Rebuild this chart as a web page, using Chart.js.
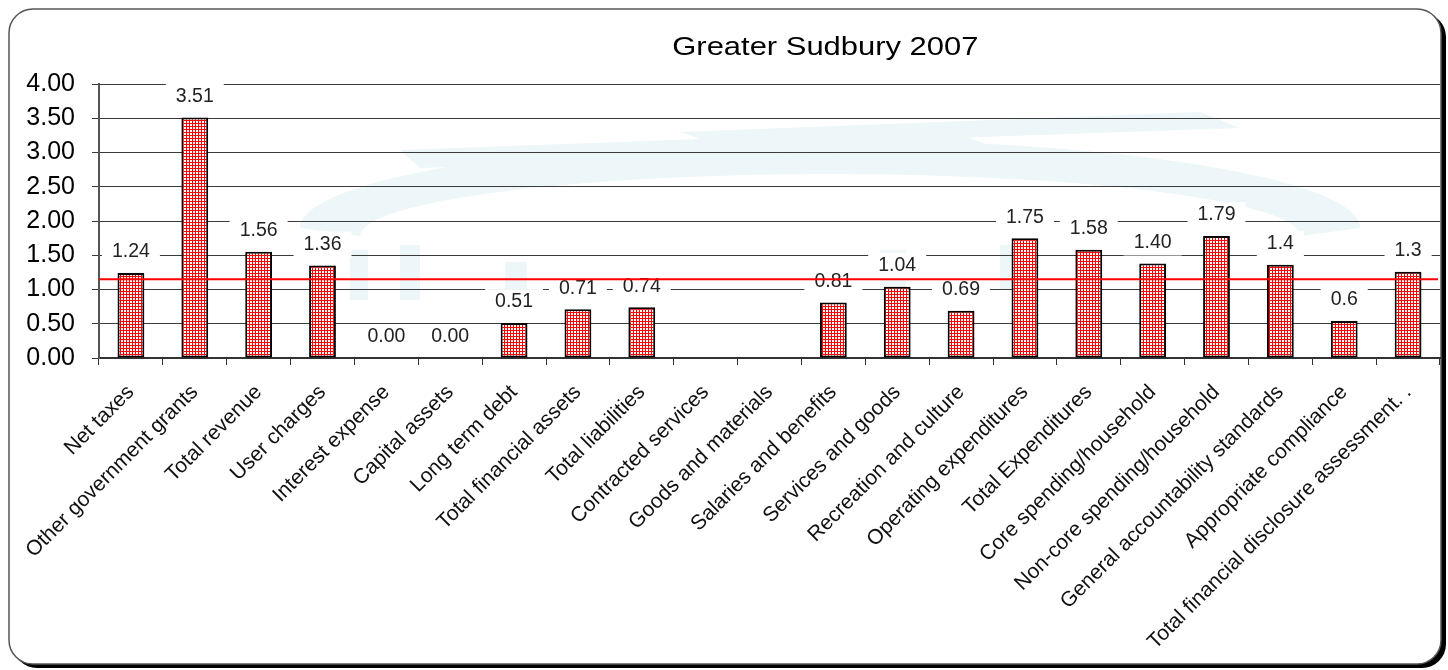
<!DOCTYPE html>
<html>
<head>
<meta charset="utf-8">
<script src="https://cdn.jsdelivr.net/npm/chart.js@4.4.1/dist/chart.umd.min.js"></script>
<style>
html,body{margin:0;padding:0;background:#fff;}
#wrap{width:1448px;height:670px;position:relative;}
canvas{display:block;}
</style>
</head>
<body>
<div id="wrap"><canvas id="c" width="1448" height="670"></canvas></div>
<script>
// ---- data ----
const chartTitle = 'Greater Sudbury 2007';
const categories = [
  'Net taxes', 'Other government grants', 'Total revenue', 'User charges',
  'Interest expense', 'Capital assets', 'Long term debt', 'Total financial assets',
  'Total liabilities', 'Contracted services', 'Goods and materials',
  'Salaries and benefits', 'Services and goods', 'Recreation and culture',
  'Operating expenditures', 'Total Expenditures', 'Core spending/household',
  'Non-core spending/household', 'General accountability standards',
  'Appropriate compliance', 'Total financial disclosure assessment. .'
];
const values = [1.24, 3.51, 1.55, 1.35, 0, 0, 0.51, 0.71, 0.74, null, null,
  0.81, 1.04, 0.69, 1.75, 1.58, 1.38, 1.78, 1.36, 0.54, 1.26];
const valueLabels = ['1.24', '3.51', '1.56', '1.36', '0.00', '0.00', '0.51', '0.71',
  '0.74', '', '', '0.81', '1.04', '0.69', '1.75', '1.58', '1.40', '1.79', '1.4', '0.6', '1.3'];
const averageValue = 1.15;
const yTicks = [0, 0.5, 1, 1.5, 2, 2.5, 3, 3.5, 4];

const FONT = '"Liberation Sans", Arial, sans-serif';

const canvas = document.getElementById('c');
const ctx = canvas.getContext('2d');

function makePattern() {
  const p = document.createElement('canvas');
  p.width = 3; p.height = 3;
  const g = p.getContext('2d');
  g.fillStyle = '#ff0000';
  g.fillRect(0, 0, 3, 3);
  g.fillStyle = '#ffffff';
  g.fillRect(1, 1, 2, 2);
  return ctx.createPattern(p, 'repeat');
}
const barPattern = makePattern();

function roundRect(c, x, y, w, h, r) {
  c.beginPath();
  c.moveTo(x + r, y);
  c.lineTo(x + w - r, y);
  c.arcTo(x + w, y, x + w, y + r, r);
  c.lineTo(x + w, y + h - r);
  c.arcTo(x + w, y + h, x + w - r, y + h, r);
  c.lineTo(x + r, y + h);
  c.arcTo(x, y + h, x, y + h - r, r);
  c.lineTo(x, y + r);
  c.arcTo(x, y, x + r, y, r);
  c.closePath();
}

const framePlugin = {
  id: 'frame',
  beforeDraw(chart) {
    const c = chart.ctx;
    c.save();
    c.fillStyle = '#ffffff';
    c.fillRect(0, 0, chart.width, chart.height);
    // shadow
    c.fillStyle = '#000000';
    roundRect(c, 13, 13, 1433, 655, 24);
    c.fill();
    // panel
    c.fillStyle = '#ffffff';
    roundRect(c, 9, 9, 1432, 655, 24);
    c.fill();
    c.lineWidth = 1.5;
    c.strokeStyle = '#555555';
    c.stroke();
    // faint background watermark
    c.save();
    c.fillStyle = '#edf6f8';
    c.beginPath();
    c.ellipse(830, 228, 530, 88, 0, Math.PI, 2 * Math.PI);
    c.ellipse(830, 236, 470, 62, 0, 2 * Math.PI, Math.PI, true);
    c.closePath();
    c.fill();
    c.beginPath();
    c.moveTo(400, 150); c.lineTo(950, 130); c.lineTo(1000, 150); c.lineTo(420, 168); c.closePath();
    c.fill();
    c.beginPath();
    c.moveTo(680, 132); c.lineTo(1200, 112); c.lineTo(1240, 128); c.lineTo(720, 146); c.closePath();
    c.fill();
    [[350, 250, 18, 50], [400, 245, 20, 55], [505, 262, 22, 38], [880, 250, 26, 50], [1000, 245, 24, 45]].forEach(r => c.fillRect(r[0], r[1], r[2], r[3]));
    c.restore();
    // title
    c.fillStyle = '#000000';
    c.font = '26px ' + FONT;
    c.textAlign = 'center';
    c.textBaseline = 'middle';
    c.translate(chart.width * 0.57, 48);
    c.scale(1.19, 1);
    c.fillText(chartTitle, 0, 0);
    c.restore();
  }
};

const labelsPlugin = {
  id: 'valueLabels',
  afterDatasetsDraw(chart) {
    const c = chart.ctx;
    const meta = chart.getDatasetMeta(0);
    c.save();
    c.font = '19.5px ' + FONT;
    c.textAlign = 'center';
    c.textBaseline = 'middle';
    meta.data.forEach((bar, i) => {
      const txt = valueLabels[i];
      if (!txt || values[i] === null) return;
      const x = bar.x;
      const y = bar.y - 21;
      const w = c.measureText(txt).width + 20;
      const h = 26;
      c.fillStyle = '#ffffff';
      c.fillRect(x - w / 2, y - h / 2, w, h);
      c.fillStyle = '#222222';
      c.fillText(txt, x, y);
    });
    // average line
    const ys = chart.scales.y;
    const yy = ys.getPixelForValue(averageValue);
    c.strokeStyle = '#ff0000';
    c.lineWidth = 2;
    c.beginPath();
    c.moveTo(chart.chartArea.left, yy);
    c.lineTo(chart.chartArea.right - 2, yy);
    c.stroke();
    c.restore();
  }
};

new Chart(canvas, {
  type: 'bar',
  data: {
    labels: categories,
    datasets: [{
      data: values,
      backgroundColor: barPattern,
      borderColor: '#000000',
      borderWidth: 2,
      borderSkipped: false,
      barPercentage: 0.42,
      categoryPercentage: 1.0
    }]
  },
  options: {
    responsive: false,
    animation: false,
    devicePixelRatio: 1,
    layout: { padding: { top: 84, right: 8, bottom: 0, left: 0 } },
    plugins: {
      legend: { display: false },
      title: { display: false },
      tooltip: { enabled: false }
    },
    scales: {
      x: {
        offset: true,
        grid: { offset: true, drawOnChartArea: false, drawTicks: true, tickLength: 7, color: '#333333', lineWidth: 1 },
        border: { color: '#333333', width: 2 },
        ticks: {
          autoSkip: false, maxRotation: 45, minRotation: 45, padding: 15,
          color: '#111111', font: { family: FONT, size: 21 }
        },
        afterFit(s) { s.height = 312; }
      },
      y: {
        min: 0, max: 4,
        afterBuildTicks(s) { s.ticks = yTicks.map(v => ({ value: v })); },
        ticks: {
          padding: 17, color: '#000000',
          font: { family: FONT, size: 25 },
          callback: v => Number(v).toFixed(2)
        },
        grid: { color: '#3a3a3a', lineWidth: 1, tickLength: 7 },
        border: { color: '#555555', width: 2 },
        afterFit(s) { s.width = 99; }
      }
    }
  },
  plugins: [framePlugin, labelsPlugin]
});
</script>
</body>
</html>
